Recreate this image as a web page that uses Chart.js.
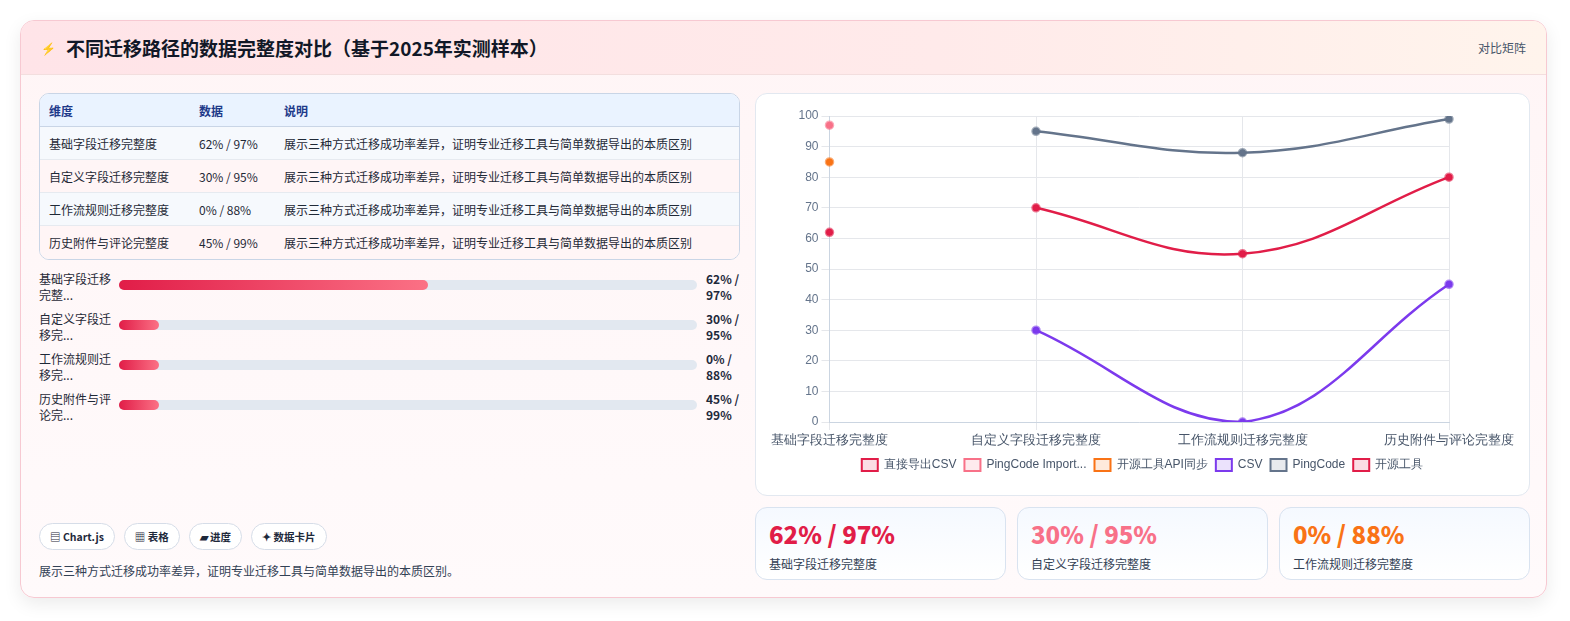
<!DOCTYPE html>
<html><head><meta charset="utf-8">
<script src="https://cdn.jsdelivr.net/npm/chart.js@4"></script>
<style>
*{box-sizing:border-box;margin:0;padding:0}
body{width:1570px;height:621px;background:#fff;font-family:"Noto Sans CJK SC","Noto Sans",sans-serif;color:#1e293b;overflow:hidden}
.card{position:absolute;left:20px;top:20px;width:1527px;height:578px;border:1px solid #f7c9d2;border-radius:14px;background:linear-gradient(180deg,#fff5f6,#fffafb);box-shadow:0 6px 18px rgba(0,0,0,.08);overflow:hidden}
.hdr{height:54px;background:linear-gradient(90deg,#ffe4e8,#ffeaea 60%,#fff4ec);border-bottom:1px solid #f3dede;display:flex;align-items:center;padding:0 20px}
.hdr h1{font-size:19px;font-weight:700;color:#111827}
.hdr .ic{color:#3b82f6;font-size:12px;margin-right:10px}
.hdr .r{margin-left:auto;font-size:12px;color:#475569}
table{position:absolute;left:18px;top:72px;width:701px;border-collapse:separate;border-spacing:0;border:1px solid #c9d5e6;border-radius:10px;overflow:hidden;font-size:12px;background:#fff}
th{background:#eaf3ff;color:#1e3a8a;text-align:left;font-weight:600;height:33px;padding-left:9px;border-bottom:1px solid #c9d5e6}
td{height:33px;padding-left:9px;border-bottom:1px solid #e6eaf0;color:#1f2937}
tr:nth-child(odd) td{background:#fff5f6}tr:nth-child(even) td{background:#f6f9fd}
tr:last-child td{border-bottom:none}
.bars{position:absolute;left:18px;top:246px;width:702px}
.br{display:flex;align-items:center;height:40px}
.br .l{width:80px;font-size:12px;line-height:16px;color:#1f2937;white-space:nowrap}
.br .t{flex:1;height:10px;background:#e2e8f0;border-radius:5px;position:relative;margin-top:-4px}
.br .f{position:absolute;left:0;top:0;height:10px;border-radius:5px;background:linear-gradient(90deg,#e11d48,#fb7185)}
.br .v{width:44px;padding-left:9px;font-size:12px;font-weight:700;line-height:16px}
.tags{position:absolute;left:18px;top:502px;display:flex;gap:9px}
.tags span{border:1px solid #d6dde8;border-radius:14px;padding:5px 10px;font-size:10.5px;font-weight:600;background:#fff}
.note{position:absolute;left:18px;top:541px;font-size:12px;color:#334155}
.cw{position:absolute;left:734px;top:72px;width:775px;height:403px;background:#fff;border:1px solid #e2e8f0;border-radius:12px}
.cw .in{position:absolute;left:12px;top:0;right:12px;bottom:0}
.kpi{position:absolute;top:486px;width:251px;height:73px;border:1px solid #d9e3f0;border-radius:12px;background:linear-gradient(180deg,#f5f9ff,#fff);padding:10px 13px}
.kpi b{display:block;font-size:24px;font-weight:800;line-height:32px}
.kpi i{font-style:normal;font-size:12px;color:#334155}
</style></head><body>
<div class="card">
<div class="hdr"><span class="ic">⚡</span><h1>不同迁移路径的数据完整度对比（基于2025年实测样本）</h1><span class="r">对比矩阵</span></div>
<table id="tb"><tr><th style="width:150px">维度</th><th style="width:85px">数据</th><th>说明</th></tr></table>
<div class="bars" id="bars"></div>
<div class="tags"><span>▤ Chart.js</span><span>▦ 表格</span><span>▰ 进度</span><span>✦ 数据卡片</span></div>
<div class="note">展示三种方式迁移成功率差异，证明专业迁移工具与简单数据导出的本质区别。</div>
<div class="cw"><div class="in"><canvas id="c"></canvas></div></div>
<div class="kpi" style="left:734px"><b style="color:#e11d48">62% / 97%</b><i>基础字段迁移完整度</i></div>
<div class="kpi" style="left:996px"><b style="color:#f87188">30% / 95%</b><i>自定义字段迁移完整度</i></div>
<div class="kpi" style="left:1258px"><b style="color:#f97316">0% / 88%</b><i>工作流规则迁移完整度</i></div>
</div>
<script>
const categories=["基础字段迁移完整度","自定义字段迁移完整度","工作流规则迁移完整度","历史附件与评论完整度"];
const dataText=["62% / 97%","30% / 95%","0% / 88%","45% / 99%"];
const barLabels=["基础字段迁移完整...","自定义字段迁移完...","工作流规则迁移完...","历史附件与评论完..."];
const barPct=[53.5,7,7,7];
const desc="展示三种方式迁移成功率差异，证明专业迁移工具与简单数据导出的本质区别";
const seriesNames=["直接导出CSV","PingCode Importer","开源工具API同步","CSV","PingCode","开源工具"];
const seriesColors=["#e11d48","#f87188","#f97316","#7c3aed","#64748b","#e11d48"];
const seriesValues=[[62,null,null,null],[97,null,null,null],[85,null,null,null],[null,30,0,45],[null,95,88,99],[null,70,55,80]];
const yTicks=[0,10,20,30,40,50,60,70,80,90,100];

const tb=document.getElementById('tb');
categories.forEach((c,i)=>{const r=tb.insertRow();r.innerHTML=`<td>${c}</td><td>${dataText[i]}</td><td>${desc}</td>`;});
const bars=document.getElementById('bars');
categories.forEach((c,i)=>{const v=dataText[i].split(' / ');bars.innerHTML+=`<div class="br"><div class="l">${barLabels[i].replace(/^(.{6})/,'$1<br>')}</div><div class="t"><div class="f" style="width:${barPct[i]}%"></div></div><div class="v">${v[0]} /<br>${v[1]}</div></div>`;});

function hexA(h,a){const n=parseInt(h.slice(1),16);return `rgba(${n>>16},${(n>>8)&255},${n&255},${a})`;}
new Chart(document.getElementById('c'),{type:'line',
data:{labels:categories,datasets:seriesNames.map((n,i)=>({label:n,data:seriesValues[i],borderColor:seriesColors[i],backgroundColor:hexA(seriesColors[i],0.15),pointBackgroundColor:seriesColors[i],pointBorderColor:hexA(seriesColors[i],0.6),pointRadius:3.5,borderWidth:2.5,tension:0.4,spanGaps:false}))},
options:{responsive:true,maintainAspectRatio:false,animation:false,layout:{padding:{left:8,right:8,top:22,bottom:14}},
scales:{y:{min:0,max:100,afterBuildTicks:a=>{a.ticks=yTicks.map(v=>({value:v}))},ticks:{color:'#64748b',font:{size:12}},grid:{color:'#e5e7eb'},border:{color:'#cbd5e1'}},
x:{ticks:{color:'#475569',font:{size:12.5},maxRotation:0},grid:{color:'#e5e7eb'},border:{color:'#cbd5e1'}}},
plugins:{legend:{position:'bottom',labels:{boxWidth:16,boxHeight:12,color:'#475569',font:{size:12},padding:8,
generateLabels:ch=>Chart.defaults.plugins.legend.labels.generateLabels(ch).map(l=>{if(l.text.length>15)l.text=l.text.slice(0,15)+'...';l.lineWidth=2;return l;})}},tooltip:{enabled:false}}}});
</script>
</body></html>
